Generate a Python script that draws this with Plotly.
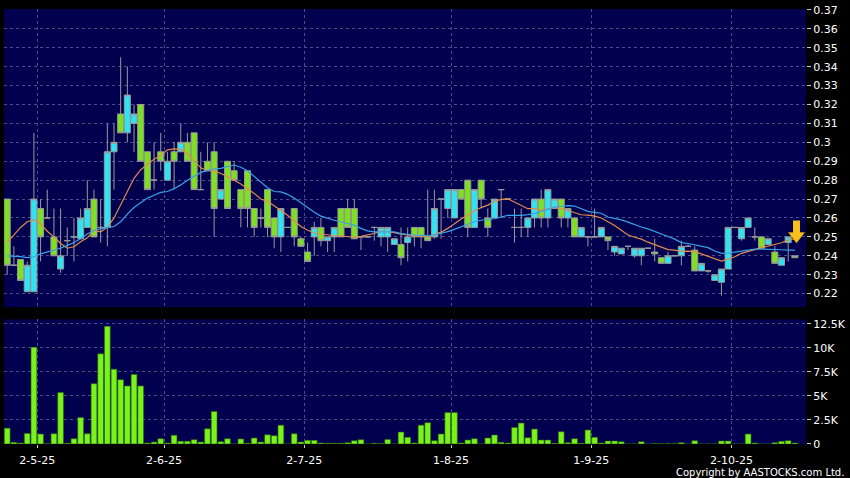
import plotly.graph_objects as go

# daily OHLC, one entry per trading day (index 0 = first bar on the chart)
opens = [0.270, 0.235, 0.238, 0.221, 0.221, 0.265, 0.260, 0.250, 0.233, 0.248,
         0.250, 0.249, 0.255, 0.270, 0.255, 0.255, 0.295, 0.315, 0.305, 0.310,
         0.320, 0.295, 0.280, 0.295, 0.280, 0.295, 0.295, 0.300, 0.305, 0.275,
         0.290, 0.295, 0.270, 0.290, 0.285, 0.275, 0.285, 0.265, 0.260, 0.275,
         0.260, 0.250, 0.255, 0.265, 0.249, 0.242, 0.250, 0.255, 0.248, 0.250,
         0.265, 0.265, 0.265, 0.250, 0.250, 0.255, 0.250, 0.250, 0.246, 0.246,
         0.247, 0.255, 0.255, 0.250, 0.250, 0.270, 0.265, 0.260, 0.275, 0.280,
         0.255, 0.280, 0.260, 0.260, 0.275, 0.270, 0.255, 0.255, 0.255, 0.260,
         0.270, 0.260, 0.265, 0.270, 0.260, 0.260, 0.250, 0.250, 0.250, 0.250,
         0.250, 0.242, 0.241, 0.245, 0.240, 0.240, 0.244, 0.242, 0.239, 0.236,
         0.240, 0.240, 0.245, 0.243, 0.232, 0.232, 0.227, 0.226, 0.233, 0.255,
         0.249, 0.255, 0.250, 0.250, 0.246, 0.242, 0.235, 0.247, 0.240]
highs = [0.270, 0.245, 0.238, 0.237, 0.305, 0.270, 0.275, 0.265, 0.265, 0.255,
         0.260, 0.265, 0.280, 0.275, 0.270, 0.310, 0.310, 0.345, 0.340, 0.320,
         0.320, 0.295, 0.300, 0.305, 0.295, 0.300, 0.310, 0.305, 0.305, 0.295,
         0.300, 0.300, 0.275, 0.290, 0.290, 0.275, 0.285, 0.265, 0.265, 0.275,
         0.260, 0.265, 0.255, 0.265, 0.250, 0.247, 0.258, 0.260, 0.250, 0.255,
         0.265, 0.270, 0.270, 0.250, 0.250, 0.255, 0.255, 0.255, 0.249, 0.255,
         0.255, 0.255, 0.255, 0.275, 0.275, 0.270, 0.275, 0.275, 0.275, 0.280,
         0.275, 0.280, 0.265, 0.270, 0.275, 0.270, 0.265, 0.265, 0.260, 0.270,
         0.275, 0.275, 0.270, 0.270, 0.265, 0.260, 0.255, 0.250, 0.265, 0.255,
         0.250, 0.245, 0.244, 0.245, 0.244, 0.244, 0.244, 0.249, 0.239, 0.242,
         0.240, 0.248, 0.246, 0.245, 0.236, 0.232, 0.230, 0.233, 0.255, 0.255,
         0.255, 0.260, 0.255, 0.250, 0.249, 0.245, 0.239, 0.250, 0.240]
lows = [0.230, 0.235, 0.227, 0.221, 0.221, 0.237, 0.260, 0.240, 0.231, 0.240,
        0.237, 0.249, 0.255, 0.250, 0.247, 0.245, 0.275, 0.305, 0.300, 0.295,
        0.290, 0.275, 0.275, 0.285, 0.280, 0.275, 0.295, 0.290, 0.275, 0.275,
        0.285, 0.250, 0.270, 0.265, 0.280, 0.255, 0.255, 0.250, 0.255, 0.250,
        0.244, 0.242, 0.255, 0.245, 0.245, 0.237, 0.240, 0.245, 0.242, 0.242,
        0.250, 0.255, 0.249, 0.243, 0.250, 0.248, 0.245, 0.242, 0.246, 0.235,
        0.237, 0.245, 0.244, 0.248, 0.249, 0.249, 0.260, 0.260, 0.270, 0.250,
        0.255, 0.265, 0.250, 0.260, 0.260, 0.270, 0.247, 0.250, 0.250, 0.255,
        0.255, 0.255, 0.265, 0.255, 0.255, 0.250, 0.250, 0.245, 0.250, 0.250,
        0.243, 0.240, 0.241, 0.243, 0.239, 0.235, 0.244, 0.237, 0.236, 0.236,
        0.240, 0.235, 0.245, 0.232, 0.232, 0.231, 0.227, 0.219, 0.233, 0.255,
        0.248, 0.255, 0.248, 0.244, 0.246, 0.236, 0.235, 0.237, 0.239]
closes = [0.235, 0.235, 0.227, 0.235, 0.270, 0.250, 0.260, 0.240, 0.240, 0.248,
          0.250, 0.260, 0.265, 0.250, 0.255, 0.295, 0.300, 0.305, 0.325, 0.315,
          0.290, 0.275, 0.280, 0.290, 0.290, 0.290, 0.300, 0.290, 0.275, 0.275,
          0.285, 0.265, 0.275, 0.265, 0.280, 0.265, 0.265, 0.255, 0.260, 0.255,
          0.250, 0.265, 0.255, 0.250, 0.245, 0.237, 0.255, 0.248, 0.250, 0.255,
          0.250, 0.255, 0.249, 0.250, 0.250, 0.255, 0.255, 0.255, 0.249, 0.239,
          0.250, 0.250, 0.250, 0.248, 0.265, 0.270, 0.275, 0.275, 0.270, 0.255,
          0.275, 0.270, 0.255, 0.270, 0.275, 0.270, 0.255, 0.255, 0.260, 0.270,
          0.260, 0.275, 0.270, 0.260, 0.265, 0.250, 0.255, 0.250, 0.250, 0.255,
          0.248, 0.245, 0.244, 0.245, 0.244, 0.244, 0.244, 0.241, 0.236, 0.240,
          0.240, 0.245, 0.245, 0.232, 0.236, 0.232, 0.230, 0.233, 0.255, 0.255,
          0.255, 0.260, 0.250, 0.244, 0.249, 0.236, 0.239, 0.250, 0.239]

# moving averages as drawn on the chart
ma_short = [0.247, 0.251, 0.255, 0.258, 0.259, 0.257, 0.253, 0.250, 0.2465, 0.244,
            0.2448, 0.2474, 0.2495, 0.2535, 0.2527, 0.255, 0.260, 0.267, 0.274, 0.281,
            0.2855, 0.2885, 0.291, 0.293, 0.296, 0.2965, 0.2963, 0.294, 0.290, 0.2865,
            0.285, 0.285, 0.2835, 0.282, 0.280, 0.278, 0.2755, 0.273, 0.270, 0.2687,
            0.2665, 0.264, 0.2614, 0.2585, 0.2555, 0.2535, 0.2522, 0.2514, 0.251, 0.2509,
            0.2505, 0.250, 0.2498, 0.2503, 0.251, 0.2518, 0.253, 0.2528, 0.2523, 0.2515,
            0.251, 0.2504, 0.2502, 0.2501, 0.2513, 0.2525, 0.2545, 0.257, 0.2595, 0.2615,
            0.2638, 0.2655, 0.2668, 0.2687, 0.2698, 0.2701, 0.2685, 0.2666, 0.2649, 0.2649,
            0.264, 0.2648, 0.2657, 0.265, 0.2638, 0.2625, 0.2617, 0.2615, 0.261, 0.260,
            0.258, 0.256, 0.2535, 0.251, 0.2498, 0.2488, 0.2472, 0.2458, 0.2445, 0.2433,
            0.243, 0.2423, 0.2425, 0.2422, 0.241, 0.2398, 0.2387, 0.2372, 0.2382, 0.2395,
            0.2413, 0.2425, 0.2433, 0.2443, 0.2452, 0.2462, 0.2469, 0.2483, 0.249]
ma_long = [0.240, 0.240, 0.2396, 0.239, 0.2395, 0.241, 0.242, 0.243, 0.244, 0.2455,
           0.247, 0.249, 0.2515, 0.2535, 0.2544, 0.255, 0.2555, 0.258, 0.262, 0.2655,
           0.268, 0.2705, 0.272, 0.2735, 0.274, 0.2755, 0.2775, 0.280, 0.282, 0.2841,
           0.285, 0.286, 0.2862, 0.287, 0.288, 0.2868, 0.285, 0.282, 0.2788, 0.276,
           0.274, 0.2738, 0.2725, 0.2705, 0.268, 0.2655, 0.263, 0.261, 0.2598, 0.2588,
           0.258, 0.257, 0.2561, 0.2545, 0.2532, 0.2527, 0.2527, 0.2527, 0.2527, 0.2517,
           0.2512, 0.251, 0.2508, 0.2506, 0.251, 0.2518, 0.2528, 0.254, 0.2553, 0.257,
           0.258, 0.2588, 0.2592, 0.2596, 0.2605, 0.2614, 0.2614, 0.2614, 0.2618, 0.2623,
           0.2635, 0.2645, 0.2657, 0.2662, 0.2665, 0.2663, 0.2649, 0.2635, 0.263, 0.2625,
           0.2605, 0.2598, 0.259, 0.2578, 0.2563, 0.2552, 0.2542, 0.253, 0.2516, 0.2502,
           0.2488, 0.247, 0.2465, 0.2458, 0.2448, 0.2443, 0.2425, 0.2413, 0.2414, 0.2418,
           0.2426, 0.243, 0.2436, 0.2436, 0.2436, 0.2434, 0.2432, 0.243, 0.243]

volumes = [1650, 170, 100, 1100, 10050, 1030, 20, 1070, 5340, 70,
           550, 2750, 1070, 6270, 9370, 12230, 7780, 6680, 6030, 7230,
           6030, 100, 200, 550, 100, 900, 280, 280, 450, 200,
           1580, 3380, 240, 550, 0, 520, 70, 620, 200, 960,
           860, 1960, 0, 1070, 200, 380, 380, 100, 70, 70,
           70, 140, 350, 450, 0, 70, 35, 480, 0, 1240,
           690, 100, 1960, 2220, 350, 1030, 3270, 3270, 100, 410,
           550, 0, 620, 930, 170, 100, 1720, 2170, 650, 1550,
           410, 410, 70, 1270, 140, 550, 70, 1450, 690, 100,
           310, 310, 240, 0, 0, 240, 0, 30, 30, 30,
           30, 140, 0, 345, 0, 0, 0, 310, 310, 0,
           0, 1030, 100, 0, 0, 140, 275, 345, 100]

# month boundaries (between bars) and their labels
month_pos = [4.5, 23.5, 44.5, 66.5, 87.5, 108.5]
month_labels = ["2-5-25", "2-6-25", "2-7-25", "1-8-25", "1-9-25", "2-10-25"]

vol_ticks = [0, 2500, 5000, 7500, 10000, 12500]
vol_labels = ["0", "2.5K", "5K", "7.5K", "10K", "12.5K"]

idx = list(range(len(closes)))

CYAN = "#2ee4f2"
GREEN = "#7ee020"
WICK = "#9a9a9a"
GRID = "#4c4c8c"
GOLD = "#f7c01a"
FONT = dict(family="DejaVu Sans", size=11, color="#ffffff")

fig = go.Figure()

fig.add_trace(go.Candlestick(
    x=idx, open=opens, high=highs, low=lows, close=closes,
    increasing=dict(line=dict(color=WICK, width=1), fillcolor=CYAN),
    decreasing=dict(line=dict(color=WICK, width=1), fillcolor=GREEN),
    whiskerwidth=0, showlegend=False, hoverinfo="skip",
    xaxis="x", yaxis="y"
))

fig.add_trace(go.Scatter(
    x=idx, y=ma_short, mode="lines",
    line=dict(color="#e38a4c", width=1.2),
    showlegend=False, hoverinfo="skip", xaxis="x", yaxis="y"
))
fig.add_trace(go.Scatter(
    x=idx, y=ma_long, mode="lines",
    line=dict(color="#3aa2e8", width=1.2),
    showlegend=False, hoverinfo="skip", xaxis="x", yaxis="y"
))

fig.add_trace(go.Bar(
    x=idx, y=volumes,
    marker=dict(color="#7af21c", line=dict(color="#2f6a08", width=0.6)),
    showlegend=False, hoverinfo="skip", xaxis="x2", yaxis="y2"
))

# yellow "latest bar" arrow: a thick shaft plus a down-triangle head
arrow_x = idx[-1] + 0.25
fig.add_annotation(
    x=arrow_x, y=highs[-1] + 0.0121, xref="x", yref="y",
    showarrow=True, ax=0, ay=-14, arrowhead=0,
    arrowwidth=7, arrowcolor=GOLD, text=""
)
fig.add_trace(go.Scatter(
    x=[arrow_x], y=[highs[-1] + 0.0105], mode="markers",
    marker=dict(symbol="triangle-down", size=14, color=GOLD,
                line=dict(color="#d99a00", width=0.5)),
    showlegend=False, hoverinfo="skip", xaxis="x", yaxis="y", cliponaxis=False
))

fig.add_annotation(
    x=1.0, y=0.0, xref="paper", yref="paper", xanchor="right", yanchor="top",
    xshift=40, yshift=-21, showarrow=False,
    text="Copyright by AASTOCKS.com Ltd.",
    font=dict(family="DejaVu Sans", size=10, color="#ffffff")
)

x_range = [-0.48, 119.67]
axis_common = dict(
    range=x_range, tickvals=month_pos, showgrid=True, gridcolor=GRID,
    griddash="3px,3px", gridwidth=1, zeroline=False, showline=False,
    fixedrange=True
)

fig.update_layout(
    width=850, height=478,
    margin=dict(l=4, r=42, t=5, b=34),
    paper_bgcolor="#000000",
    plot_bgcolor="#00004f",
    font=FONT,
    boxgap=0.05, boxgroupgap=0.05,
    bargap=0.14,
    xaxis=dict(anchor="y", domain=[0, 1], showticklabels=False, ticks="",
               rangeslider=dict(visible=False), **axis_common),
    xaxis2=dict(anchor="y2", domain=[0, 1], ticktext=month_labels,
                ticks="outside", ticklen=3, tickcolor="#cccccc",
                ticklabelstandoff=3, tickfont=FONT, **axis_common),
    yaxis=dict(domain=[0.3144, 1], side="right", range=[0.2128, 0.3705],
               tick0=0.22, dtick=0.01, ticks="outside", ticklen=4,
               tickcolor="#cccccc", tickfont=FONT, showgrid=True,
               gridcolor=GRID, griddash="3px,3px", zeroline=False,
               showline=False, fixedrange=True),
    yaxis2=dict(domain=[0, 0.2863], side="right", range=[0, 12944],
                tickvals=vol_ticks, ticktext=vol_labels, ticks="outside",
                ticklen=4, tickcolor="#cccccc", tickfont=FONT, showgrid=True,
                gridcolor=GRID, griddash="3px,3px", zeroline=False,
                showline=False, fixedrange=True),
)

# drop the default page margin so the 850x478 figure sits at the window origin
fig.write_html("out.html", config={"displayModeBar": False},
               post_script="document.body.style.margin='0';")
